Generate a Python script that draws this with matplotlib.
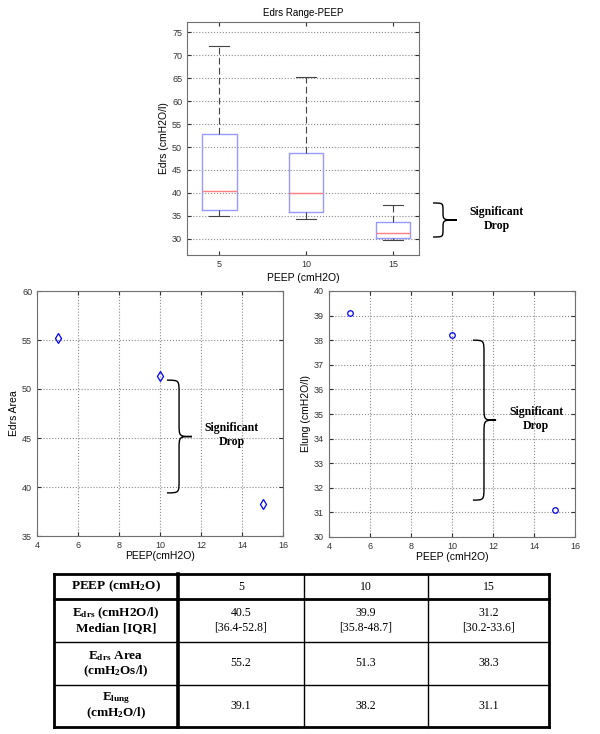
import matplotlib
matplotlib.use('Agg')
import matplotlib.pyplot as plt
from matplotlib.path import Path
from matplotlib.patches import PathPatch

plt.rcParams['font.family'] = ['Liberation Sans', 'DejaVu Sans']
plt.rcParams['mathtext.fontset'] = 'custom'
plt.rcParams['mathtext.rm'] = 'Liberation Serif:bold'
plt.rcParams['mathtext.it'] = 'Liberation Serif:bold'
plt.rcParams['mathtext.bf'] = 'Liberation Serif:bold'

# data
peep = [5, 10, 15]
edrs_med = [40.5, 39.9, 31.2]
edrs_q1 = [36.4, 35.8, 30.2]
edrs_q3 = [52.8, 48.7, 33.6]
edrs_wlo = [35.0, 34.3, 29.8]
edrs_whi = [72.0, 65.2, 37.3]
edrs_area = [55.2, 51.3, 38.3]
elung = [39.1, 38.2, 31.1]

W, H = 600, 734
fig = plt.figure(figsize=(6, 7.34), dpi=100)

gridc = '#8a8a8a'
spinec = '#707070'
serif = 'Liberation Serif'


def style(ax):
    for s in ax.spines.values():
        s.set_color(spinec)
        s.set_linewidth(0.8)
    ax.tick_params(direction='in', length=3, labelsize=6.5, colors='#333333',
                   top=True, right=True)


def brace(ax, x0, xs, xt, y0, y1, ry, transform, clip=True):
    ym = (y0 + y1) / 2
    verts = [(x0, y1), (xs, y1), (xs, y1), (xs, y1 - ry),
             (xs, ym + ry),
             (xs, ym), (xs, ym), (xt, ym),
             (xs, ym), (xs, ym), (xs, ym - ry),
             (xs, y0 + ry),
             (xs, y0), (xs, y0), (x0, y0)]
    codes = [Path.MOVETO, Path.CURVE4, Path.CURVE4, Path.CURVE4,
             Path.LINETO,
             Path.CURVE4, Path.CURVE4, Path.CURVE4,
             Path.CURVE4, Path.CURVE4, Path.CURVE4,
             Path.LINETO,
             Path.CURVE4, Path.CURVE4, Path.CURVE4]
    p = PathPatch(Path(verts, codes), fill=False, lw=1.0, color='black',
                  transform=transform, clip_on=clip)
    ax.add_patch(p)


# top: box plot
ax1 = fig.add_axes([187 / W, 1 - 255 / H, 232 / W, 233 / H])
stats = []
for i in range(3):
    stats.append(dict(med=edrs_med[i], q1=edrs_q1[i], q3=edrs_q3[i],
                      whislo=edrs_wlo[i], whishi=edrs_whi[i], fliers=[]))
ax1.bxp(stats, positions=[1, 2, 3], widths=0.4, capwidths=0.23,
        boxprops=dict(color='#9999ff', lw=1.0),
        medianprops=dict(color='#ff8080', lw=1.0),
        whiskerprops=dict(color='#444444', lw=0.8, linestyle=(0, (6, 3))),
        capprops=dict(color='#444444', lw=0.8))
ax1.set_xlim(0.63, 3.3)
ax1.set_ylim(26.5, 77.2)
ax1.set_yticks(range(30, 80, 5))
ax1.set_xticks([1, 2, 3])
ax1.set_xticklabels([str(p) for p in peep])
ax1.yaxis.grid(True, linestyle=':', color=gridc, lw=0.8)
ax1.set_axisbelow(True)
style(ax1)
ax1.set_title('Edrs Range-PEEP', fontsize=7, pad=4)
ax1.set_ylabel('Edrs (cmH2O/l)', fontsize=7.5, labelpad=2)
ax1.set_xlabel('PEEP (cmH2O)', fontsize=7.5, labelpad=3)

figpx = fig.transFigure
brace(ax1, 433 / W, 443 / W, 457 / W, 1 - 237 / H, 1 - 203 / H, 8 / H,
      figpx, clip=False)
fig.text(497 / W, 1 - 219 / H, 'Significant\nDrop', ha='center', va='center',
         family=serif, fontweight='bold', fontsize=8.5, linespacing=1.3)

# middle left: Edrs Area
ax2 = fig.add_axes([37 / W, 1 - 536 / H, 246 / W, 245 / H])
ax2.plot(peep, edrs_area, 'd', mfc='none', mec='blue', ms=5, mew=0.9)
ax2.set_xlim(4, 16)
ax2.set_ylim(35, 60)
ax2.set_xticks(range(4, 17, 2))
ax2.set_yticks(range(35, 61, 5))
ax2.grid(True, linestyle=':', color=gridc, lw=0.8)
ax2.set_axisbelow(True)
style(ax2)
ax2.set_xlabel('PEEP(cmH2O)', fontsize=7.5, labelpad=1)
ax2.set_ylabel('Edrs Area', fontsize=7.5, labelpad=2)
brace(ax2, 10.34, 10.93, 11.56, 39.4, 50.9, 1.3, ax2.transData)
ax2.text(13.5, 45.3, 'Significant\nDrop', ha='center', va='center',
         family=serif, fontweight='bold', fontsize=8.5, linespacing=1.3)

# middle right: Elung
ax3 = fig.add_axes([329 / W, 1 - 537 / H, 246 / W, 246 / H])
ax3.plot(peep, elung, 'o', mfc='none', mec='blue', ms=4, mew=0.9)
ax3.set_xlim(4, 16)
ax3.set_ylim(30, 40)
ax3.set_xticks(range(4, 17, 2))
ax3.set_yticks(range(30, 41, 1))
ax3.grid(True, linestyle=':', color=gridc, lw=0.8)
ax3.set_axisbelow(True)
style(ax3)
ax3.set_xlabel('PEEP (cmH2O)', fontsize=7.5, labelpad=1)
ax3.set_ylabel('Elung (cmH2O/l)', fontsize=7.5, labelpad=2)
brace(ax3, 11.02, 11.56, 12.15, 31.5, 38.0, 0.55, ax3.transData)
ax3.text(14.1, 34.8, 'Significant\nDrop', ha='center', va='center',
         family=serif, fontweight='bold', fontsize=8.5, linespacing=1.3)

# table
tw, th = 495, 153
axt = fig.add_axes([54 / W, 1 - 727 / H, tw / W, th / H])
axt.set_xlim(0, tw)
axt.set_ylim(th, 0)
axt.axis('off')
col_x = [0, 124, 250, 374, 495]
row_y = [0, 25, 68, 111, 153]

for i, y in enumerate(row_y):
    lw = 2.0 if i in (0, 1, 4) else 1.0
    axt.plot([0, tw], [y, y], color='black', lw=lw, solid_capstyle='projecting',
             clip_on=False)
for j, x in enumerate(col_x):
    lw = 2.0 if j in (0, 4) else (2.6 if j == 1 else 1.0)
    axt.plot([x, x], [0, th], color='black', lw=lw, solid_capstyle='projecting',
             clip_on=False)

row_labels = [['PEEP (cmH$_2$O)'],
              ['E$_{drs}$ (cmH2O/l)', 'Median [IQR]'],
              ['E$_{drs}$ Area', '(cmH$_2$Os/l)'],
              ['E$_{lung}$', '(cmH$_2$O/l)']]
rows_vals = [
    [[str(p)] for p in peep],
    [['%.1f' % edrs_med[i], '[%.1f-%.1f]' % (edrs_q1[i], edrs_q3[i])] for i in range(3)],
    [['%.1f' % v] for v in edrs_area],
    [['%.1f' % v] for v in elung],
]

for r in range(4):
    yc = (row_y[r] + row_y[r + 1]) / 2
    lines = row_labels[r]
    n = len(lines)
    for k, s in enumerate(lines):
        yy = yc + (k - (n - 1) / 2) * 15
        axt.text(col_x[1] / 2, yy, s, ha='center', va='center', family=serif,
                 fontweight='bold', fontsize=9.5)
    for c in range(3):
        xc = (col_x[c + 1] + col_x[c + 2]) / 2
        vl = rows_vals[r][c]
        n = len(vl)
        for k, s in enumerate(vl):
            yy = yc + (k - (n - 1) / 2) * 15
            axt.text(xc, yy, s, ha='center', va='center', family=serif,
                     fontsize=8.5)

fig.savefig('out.png', dpi=100)
